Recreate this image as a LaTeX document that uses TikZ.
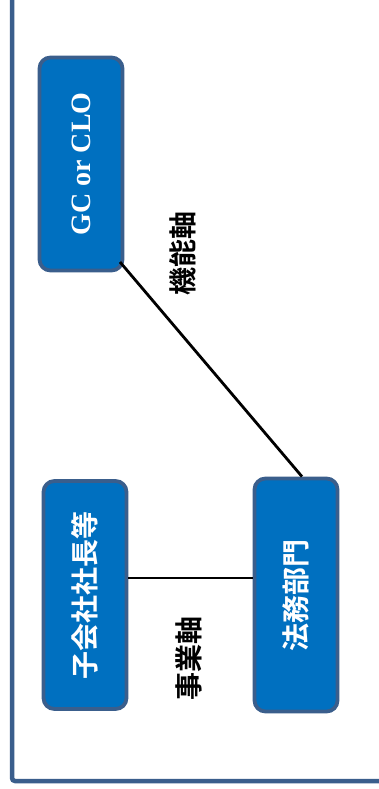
\documentclass[tikz,border=0pt]{standalone}
\usepackage{fontspec}
\setmainfont{Liberation Serif}
\newfontfamily\jp{Noto Sans CJK JP}[BoldFont={* Bold}]
\definecolor{boxfill}{HTML}{0070C0}
\definecolor{boxedge}{HTML}{3A5E8C}
\begin{document}
\begin{tikzpicture}[x=1pt,y=-1pt,
  unit/.style={draw=boxedge,line width=3.8pt,fill=boxfill,rounded corners=11pt,
    minimum width=83pt,text=white,inner sep=0pt},
  axis/.style={font=\jp\bfseries\fontsize{28}{28}\selectfont,rotate=90,inner sep=0pt},
  link/.style={line width=2.8pt,black}]
\useasboundingbox (0,0) rectangle (379,789);
\fill[white] (0,0) rectangle (379,789);
\draw[boxedge,line width=4.5pt,rounded corners=3pt] (12,-10) -- (12,781) -- (400,781);
\node[unit,minimum height=213pt] (gc) at (81,164) {};
\node[rotate=90,text=white,font=\bfseries\fontsize{28}{28}\selectfont] at (gc.center) {GC or CLO};
\node[unit,minimum height=228pt] (sub) at (85,595) {};
\node[rotate=90,text=white,font=\jp\bfseries\fontsize{28}{28}\selectfont] at (sub.center) {子会社社長等};
\node[unit,minimum height=233pt] (legal) at (296,595) {};
\node[rotate=90,text=white,font=\jp\bfseries\fontsize{28}{28}\selectfont] at (legal.center) {法務部門};
\coordinate (gcc) at (120,262);
\draw[link] (gcc) -- (legal.north -| 302,0);
\draw[link] (sub.east |- 0,578) -- (legal.west |- 0,578);
\node[axis] (f) at (183,253) {機能軸};
\node[axis] (b) at (189,658) {事業軸};
\end{tikzpicture}
\end{document}
